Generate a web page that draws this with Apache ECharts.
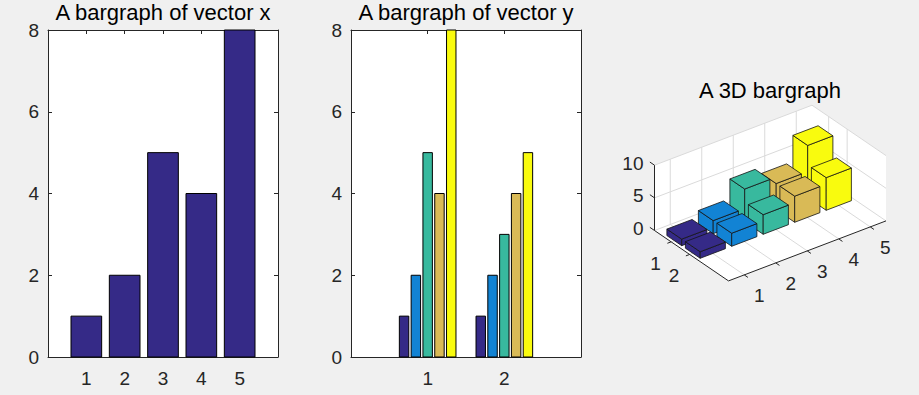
<!DOCTYPE html>
<html>
<head>
<meta charset="utf-8">
<script src="https://cdn.jsdelivr.net/npm/echarts@6/dist/echarts.min.js"></script>
<style>
html,body{margin:0;padding:0;background:#f0f0f0;}
#chart{width:919px;height:395px;}
</style>
</head>
<body>
<div id="chart"></div>
<script>
// ---------------- data ----------------
const titles = ['A bargraph of vector x', 'A bargraph of vector y', 'A 3D bargraph'];
const vecX_categories = [1, 2, 3, 4, 5];
const vecX_values = [1, 2, 5, 4, 8];
const vecY_groups = [1, 2];
const vecY_row1 = [1, 2, 5, 4, 8];
const vecY_row2 = [1, 2, 3, 4, 5];
const ticks2D_y = [0, 2, 4, 6, 8];
const ticks3D_x = [1, 2, 3, 4, 5];
const ticks3D_y = [1, 2];
const ticks3D_z = [0, 5, 10];
const barColors = ['#352A87', '#1283D4', '#38B99E', '#D9BA56', '#F9FB0E'];

// ---------------- styles ----------------
const FONT = '"Liberation Sans", Arial, Helvetica, sans-serif';
const AXC = '#262626';
const TICK_FS = 19;
const TITLE_FS = 22;

// ---------------- 2D helpers ----------------
function xAxesFor(grid, max, labels) {
  const base = {
    gridIndex: grid, type: 'value', min: 0, max: max, interval: 1,
    axisLine: {show: true, onZero: false, lineStyle: {color: AXC, width: 1}},
    axisTick: {show: true, inside: true, length: 4, lineStyle: {color: AXC, width: 1}},
    splitLine: {show: false}
  };
  return [
    Object.assign({}, base, {position: 'bottom',
      axisLabel: {show: true, color: AXC, fontSize: TICK_FS, fontFamily: FONT, margin: 12,
        formatter: v => labels.indexOf(v) >= 0 ? String(v) : ''}}),
    Object.assign({}, base, {position: 'top', axisLabel: {show: false}})
  ];
}
function yAxesFor(grid) {
  const base = {
    gridIndex: grid, type: 'value', min: ticks2D_y[0], max: ticks2D_y[ticks2D_y.length - 1],
    interval: ticks2D_y[1] - ticks2D_y[0],
    axisLine: {show: true, onZero: false, lineStyle: {color: AXC, width: 1}},
    axisTick: {show: true, inside: true, length: 4, lineStyle: {color: AXC, width: 1}},
    splitLine: {show: false}
  };
  return [
    Object.assign({}, base, {position: 'left',
      axisLabel: {show: true, color: AXC, fontSize: TICK_FS, fontFamily: FONT, margin: 9}}),
    Object.assign({}, base, {position: 'right', axisLabel: {show: false}})
  ];
}
function rectBar(api, xc, half, v, color) {
  const p0 = api.coord([xc - half, v]);
  const p1 = api.coord([xc + half, 0]);
  return {type: 'rect',
    shape: {x: p0[0], y: p0[1], width: p1[0] - p0[0], height: p1[1] - p0[1]},
    style: {fill: color, stroke: '#000', lineWidth: 1}};
}

// grouped bar layout (MATLAB-like)
const nSer = vecY_row1.length;
const groupWidth = Math.min(0.8, nSer / (nSer + 1.5));
const step = groupWidth / nSer;
const barW = step * 0.8;

// ---------------- 3D projection ----------------
const LIM = {x: [0.5, 5.5], y: [0.1, 4.1], z: [0, 10]};
const VIEW = {o: [54.5, 230.5], ex: [31.5, -12], ey: [18.5, 12.6], ez: [0, -6.53]};
function proj(x, y, z) {
  const a = x - LIM.x[0], b = y - LIM.y[0];
  return [VIEW.o[0] + a * VIEW.ex[0] + b * VIEW.ey[0] + z * VIEW.ez[0],
          VIEW.o[1] + a * VIEW.ex[1] + b * VIEW.ey[1] + z * VIEW.ez[1]];
}

function renderFrame(params, api) {
  const P = (x, y, z) => api.coord(proj(x, y, z));
  const [x0, x1] = LIM.x, [y0, y1] = LIM.y, [z0, z1] = LIM.z;
  const ch = [];
  ch.push({type: 'polygon', shape: {points: [P(x0, y0, z0), P(x0, y1, z0), P(x1, y1, z0), P(x1, y1, z1), P(x1, y0, z1), P(x0, y0, z1)]},
    style: {fill: '#ffffff', stroke: null}});
  const gl = {stroke: '#dadada', lineWidth: 1};
  const line = (a, b, st) => ch.push({type: 'line', shape: {x1: a[0], y1: a[1], x2: b[0], y2: b[1]}, style: st});
  // floor grid
  ticks3D_x.forEach(x => line(P(x, y0, 0), P(x, y1, 0), gl));
  ticks3D_y.forEach(y => line(P(x0, y, 0), P(x1, y, 0), gl));
  // back-left wall (y = y0)
  ticks3D_x.forEach(x => line(P(x, y0, z0), P(x, y0, z1), gl));
  ticks3D_z.forEach(z => line(P(x0, y0, z), P(x1, y0, z), gl));
  // back-right wall (x = x1)
  ticks3D_y.forEach(y => line(P(x1, y, z0), P(x1, y, z1), gl));
  ticks3D_z.forEach(z => line(P(x1, y0, z), P(x1, y1, z), gl));
  // axis lines
  const al = {stroke: AXC, lineWidth: 1};
  line(P(x0, y0, z0), P(x0, y0, z1), al);
  line(P(x0, y0, 0), P(x0, y1, 0), al);
  line(P(x0, y1, 0), P(x1, y1, 0), al);
  // ticks + labels
  const font = TICK_FS + 'px ' + FONT;
  const txt = (p, s, align, dx, dy) => ch.push({type: 'text', x: p[0] + dx, y: p[1] + dy,
    style: {text: String(s), fill: AXC, font: font, align: align, verticalAlign: 'middle'}});
  ticks3D_z.forEach(z => {
    line(P(x0, y0, z), P(x0, y0 - 0.25, z), al);
    txt(P(x0, y0, z), z, 'right', -11, -2);
  });
  ticks3D_y.forEach(y => {
    line(P(x0, y, 0), P(x0 - 0.12, y, 0), al);
    txt(P(x0, y, 0), y, 'center', -15.5, 21.5);
  });
  ticks3D_x.forEach(x => {
    line(P(x, y1, 0), P(x, y1 + 0.2, 0), al);
    txt(P(x, y1, 0), x, 'center', 15, 21);
  });
  return {type: 'group', children: ch};
}

const HALF3 = 0.4;
function renderBar3(params, api) {
  const x = api.value(0), y = api.value(1), h = api.value(2), ci = api.value(3);
  const P = (a, b, c) => api.coord(proj(a, b, c));
  const xa = x - HALF3, xb = x + HALF3, ya = y - HALF3, yb = y + HALF3;
  const faces = [
    [P(xa, ya, 0), P(xa, yb, 0), P(xa, yb, h), P(xa, ya, h)],
    [P(xa, yb, 0), P(xb, yb, 0), P(xb, yb, h), P(xa, yb, h)],
    [P(xa, ya, h), P(xb, ya, h), P(xb, yb, h), P(xa, yb, h)]
  ];
  return {type: 'group', children: faces.map(pts => ({type: 'polygon', shape: {points: pts},
    style: {fill: barColors[ci], stroke: '#141414', lineWidth: 0.8, lineJoin: 'round'}}))};
}

const bars3Data = [];
[vecY_row1, vecY_row2].forEach((row, r) => row.forEach((h, c) => bars3Data.push([c + 1, r + 1, h, c])));
bars3Data.sort((a, b) => (a[1] - a[0]) - (b[1] - b[0]));

// ---------------- option ----------------
const grids = [
  {left: 48, top: 30, width: 230, height: 327},
  {left: 351, top: 30, width: 230, height: 327},
  {left: 600, top: 0, width: 319, height: 395}
].map(g => Object.assign({show: true, backgroundColor: '#ffffff', borderWidth: 0, containLabel: false, outerBoundsMode: 'none'}, g));
grids[2].show = false;

const xAxis = [].concat(
  xAxesFor(0, 6, vecX_categories),
  xAxesFor(1, 3, vecY_groups),
  [{gridIndex: 2, type: 'value', min: 0, max: 319, show: false}]
);
const yAxis = [].concat(
  yAxesFor(0), yAxesFor(1),
  [{gridIndex: 2, type: 'value', min: 0, max: 395, inverse: true, show: false}]
);

const series = [];
series.push({
  type: 'custom', name: 'x', xAxisIndex: 0, yAxisIndex: 0,
  data: vecX_categories.map((c, i) => [c, vecX_values[i]]),
  renderItem: (p, api) => rectBar(api, api.value(0), 0.4, api.value(1), barColors[0])
});
for (let s = 0; s < nSer; s++) {
  series.push({
    type: 'custom', name: 'y' + (s + 1), xAxisIndex: 2, yAxisIndex: 2,
    data: vecY_groups.map((g, j) => [g, [vecY_row1, vecY_row2][j][s]]),
    renderItem: (p, api) => rectBar(api, api.value(0) + (s - (nSer - 1) / 2) * step, barW / 2, api.value(1), barColors[s])
  });
}
series.push({type: 'custom', name: 'frame3d', xAxisIndex: 4, yAxisIndex: 4, z: 1,
  data: [[0, 0]], renderItem: renderFrame, silent: true});
series.push({type: 'custom', name: 'bars3d', xAxisIndex: 4, yAxisIndex: 4, z: 2,
  data: bars3Data, renderItem: renderBar3, silent: true});

const option = {
  backgroundColor: '#f0f0f0',
  animation: false,
  textStyle: {fontFamily: FONT},
  title: [
    {text: titles[0], left: 163, top: 1, textAlign: 'center'},
    {text: titles[1], left: 466, top: 1, textAlign: 'center'},
    {text: titles[2], left: 770, top: 79, textAlign: 'center'}
  ].map(t => Object.assign({padding: 0, textStyle: {color: '#000', fontSize: TITLE_FS, fontWeight: 'normal', fontFamily: FONT}}, t)),
  grid: grids,
  xAxis: xAxis,
  yAxis: yAxis,
  series: series
};

const chart = echarts.init(document.getElementById('chart'), null, {renderer: 'svg'});
chart.setOption(option);
</script>
</body>
</html>
